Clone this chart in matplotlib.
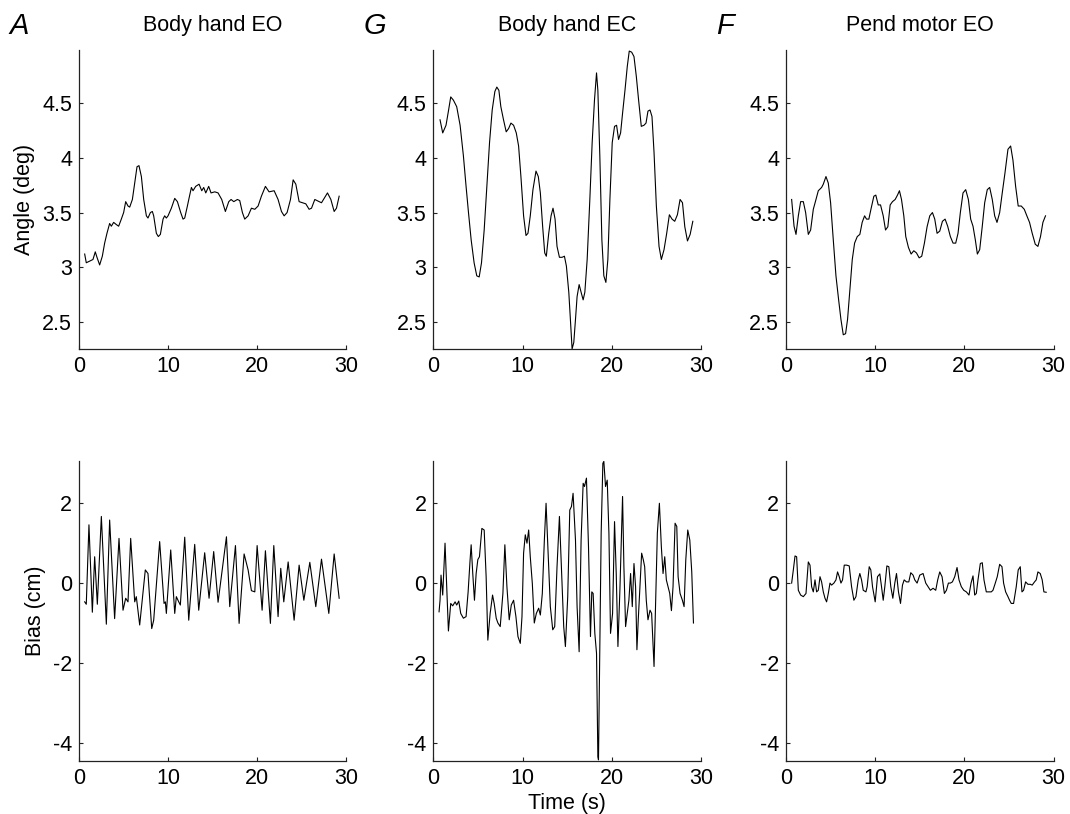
import numpy as np
import matplotlib as mpl

mpl.use("Agg")
import matplotlib.pyplot as plt

plt.rcParams["font.family"] = ["Liberation Sans", "DejaVu Sans"]
plt.rcParams["axes.unicode_minus"] = False

# ---- data ----
# top row: angle (deg)
a_ang_t = [0.64, 0.82, 1.20, 1.57, 1.83, 2.02, 2.32, 2.62, 2.88, 3.14, 3.44, 3.63, 3.89,
           4.19, 4.45, 4.75, 5.01, 5.24, 5.50, 5.69, 5.99, 6.25, 6.51, 6.73, 7.00, 7.26,
           7.56, 7.74, 8.01, 8.23, 8.38, 8.68, 8.90, 9.13, 9.43, 9.61, 9.80, 9.99, 10.36,
           10.74, 11.04, 11.41, 11.67, 11.86, 12.16, 12.42, 12.61, 12.79, 13.09, 13.47,
           13.77, 13.99, 14.22, 14.55, 14.81, 15.23, 15.60, 16.01, 16.42, 16.80, 17.06,
           17.36, 17.77, 18.03, 18.33, 18.59, 18.97, 19.34, 19.72, 20.09, 20.46, 20.91,
           21.32, 21.89, 22.33, 22.71, 23.01, 23.34, 23.72, 24.02, 24.32, 24.69, 25.07,
           25.44, 25.81, 26.08, 26.45, 26.94, 27.20, 27.87, 28.25, 28.62, 28.88, 29.18]
a_ang = [3.12, 3.04, 3.055, 3.07, 3.14, 3.09, 3.02, 3.10, 3.22, 3.31, 3.40, 3.375, 3.41,
         3.39, 3.375, 3.44, 3.50, 3.60, 3.56, 3.55, 3.62, 3.77, 3.92, 3.93, 3.83, 3.62,
         3.47, 3.45, 3.50, 3.51, 3.47, 3.31, 3.28, 3.30, 3.44, 3.47, 3.45, 3.47, 3.54,
         3.63, 3.60, 3.50, 3.44, 3.45, 3.56, 3.66, 3.73, 3.70, 3.74, 3.76,
         3.70, 3.73, 3.68, 3.74, 3.68, 3.69, 3.68, 3.62, 3.51, 3.60, 3.62,
         3.60, 3.62, 3.61, 3.50, 3.44, 3.47, 3.54, 3.53, 3.56, 3.65, 3.74,
         3.69, 3.70, 3.62, 3.51, 3.47, 3.50, 3.62, 3.80, 3.76, 3.60, 3.59,
         3.58, 3.53, 3.54, 3.62, 3.60, 3.59, 3.68, 3.62, 3.51, 3.54, 3.65]

g_ang_t = [0.75, 1.05, 1.42, 1.69, 1.95, 2.25, 2.62, 3.00, 3.37, 3.67, 3.94, 4.24, 4.57,
           4.87, 5.14, 5.40, 5.70, 6.00, 6.30, 6.60, 6.90, 7.12, 7.35, 7.57, 7.87, 8.17,
           8.44, 8.70, 9.00, 9.30, 9.56, 9.82, 10.12, 10.39, 10.61, 10.87, 11.17, 11.51,
           11.77, 12.00, 12.26, 12.49, 12.67, 12.94, 13.20, 13.42, 13.65, 13.87, 14.14,
           14.44, 14.70, 14.92, 15.19, 15.37, 15.56, 15.75, 15.94, 16.12, 16.35, 16.57,
           16.80, 16.99, 17.25, 17.55, 17.81, 18.07, 18.30, 18.45, 18.67, 18.90, 19.12,
           19.35, 19.57, 19.80, 20.06, 20.32, 20.55, 20.77, 21.00, 21.22, 21.49, 21.75,
           21.97, 22.24, 22.50, 22.76, 23.02, 23.32, 23.62, 23.85, 24.07, 24.30, 24.52,
           24.75, 25.01, 25.31, 25.57, 25.87, 26.17, 26.47, 26.77, 27.07, 27.37, 27.67,
           27.94, 28.20, 28.50, 28.80, 29.10]
g_ang = [4.35, 4.23, 4.30, 4.43, 4.56, 4.53, 4.47, 4.30, 4.02, 3.74, 3.50, 3.25, 3.04,
         2.92, 2.91, 3.04, 3.34, 3.74, 4.14, 4.44, 4.61, 4.65, 4.62, 4.47, 4.35, 4.24,
         4.27, 4.32, 4.30, 4.23, 4.11, 3.83, 3.47, 3.29, 3.31, 3.47, 3.71, 3.88,
         3.83, 3.68, 3.37, 3.13, 3.10, 3.31, 3.47, 3.54, 3.44, 3.19, 3.09,
         3.09, 3.10, 3.01, 2.77, 2.52, 2.25, 2.31, 2.52, 2.73, 2.84, 2.77,
         2.70, 2.77, 3.07, 3.62, 4.14, 4.53, 4.78, 4.62, 4.02, 3.25, 2.92,
         2.86, 3.07, 3.62, 4.14, 4.29, 4.30, 4.17, 4.23, 4.41, 4.62, 4.84,
         4.98, 4.97, 4.93, 4.75, 4.53, 4.29, 4.30, 4.32, 4.43, 4.44, 4.38,
         4.05, 3.56, 3.19, 3.07, 3.16, 3.31, 3.48, 3.44, 3.42, 3.48, 3.62,
         3.59, 3.37, 3.24, 3.30, 3.42]

f_ang_t = [0.63, 0.90, 1.12, 1.38, 1.64, 1.94, 2.20, 2.50, 2.76, 3.06, 3.36, 3.62, 3.99,
           4.18, 4.48, 4.74, 5.00, 5.30, 5.60, 5.90, 6.16, 6.42, 6.68, 6.90, 7.16, 7.43,
           7.69, 7.99, 8.28, 8.54, 8.81, 9.03, 9.29, 9.55, 9.85, 10.07, 10.34, 10.60,
           10.90, 11.16, 11.42, 11.68, 11.94, 12.24, 12.50, 12.72, 12.95, 13.21, 13.43,
           13.73, 14.03, 14.33, 14.63, 14.93, 15.22, 15.52, 15.82, 16.12, 16.42, 16.68,
           16.94, 17.24, 17.54, 17.84, 18.13, 18.43, 18.73, 19.03, 19.29, 19.55, 19.85,
           20.15, 20.45, 20.71, 20.97, 21.23, 21.46, 21.72, 22.01, 22.28, 22.57, 22.84,
           23.13, 23.40, 23.66, 23.96, 24.25, 24.55, 24.89, 25.19, 25.45, 25.75, 26.04,
           26.38, 26.72, 27.01, 27.31, 27.61, 27.95, 28.25, 28.54, 28.81, 29.10]
f_ang = [3.62, 3.375, 3.30, 3.47, 3.60, 3.60, 3.50, 3.30, 3.34, 3.53, 3.62, 3.70, 3.73,
         3.76, 3.83, 3.77, 3.59, 3.25, 2.92, 2.70, 2.52, 2.38, 2.39, 2.52, 2.79, 3.07,
         3.22, 3.28, 3.30, 3.41, 3.47, 3.44, 3.44, 3.54, 3.65, 3.66, 3.57, 3.57,
         3.47, 3.34, 3.37, 3.57, 3.60, 3.62, 3.66, 3.70, 3.62, 3.47, 3.28,
         3.18, 3.12, 3.15, 3.13, 3.085, 3.10, 3.22, 3.37, 3.47, 3.50, 3.44,
         3.31, 3.33, 3.42, 3.44, 3.375, 3.28, 3.22, 3.22, 3.31, 3.50, 3.68,
         3.71, 3.62, 3.44, 3.375, 3.25, 3.12, 3.16, 3.375, 3.59, 3.71, 3.73,
         3.62, 3.47, 3.41, 3.50, 3.68, 3.86, 4.08, 4.11, 3.98, 3.74, 3.56,
         3.56, 3.53, 3.47, 3.41, 3.31, 3.21, 3.19, 3.28, 3.41, 3.47]

# bottom row: bias (cm)
a_bias_t = [0.64, 0.82, 1.12, 1.50, 1.76, 2.06, 2.51, 3.07, 3.44, 4.00, 4.49, 4.94, 5.24,
            5.50, 5.80, 6.25, 6.43, 6.81, 7.44, 7.74, 8.16, 8.38, 9.05, 9.54, 9.69, 9.80,
            10.29, 10.74, 10.92, 11.19, 11.37, 11.86, 12.31, 12.98, 13.43, 14.10, 14.59,
            15.11, 15.60, 16.54, 16.91, 17.55, 17.96, 18.52, 18.97, 19.34, 19.72, 19.98,
            20.54, 20.91, 21.47, 21.85, 22.33, 22.63, 22.97, 23.46, 24.13, 24.69, 25.22,
            25.89, 26.56, 27.20, 28.02, 28.62, 29.18]
a_bias = [-0.47, -0.53, 1.46, -0.73, 0.66, -0.53, 1.67, -1.03, 1.58, -0.89, 1.12, -0.68,
          -0.38, -0.47, 1.12, -0.47, -0.34, -1.05, 0.33, 0.24, -1.14, -0.93, 1.04, -0.51,
          -0.47, -0.76, 0.83, -0.76, -0.34, -0.47, -0.55, 1.15, -0.93, 0.97, -0.68, 0.76,
          -0.38, 0.79, -0.48, 1.16, -0.59, 0.94, -1.01, 0.73, 0.33, -0.19, -0.22, 0.94,
          -0.68, 0.81, -1.01, 0.94, -0.84, 0.37, -0.47, 0.53, -0.93, 0.45, -0.43,
          0.52, -0.59, 0.60, -0.76, 0.73, -0.38]

g_bias_t = [0.64, 0.75, 0.86, 1.05, 1.31, 1.69, 1.95, 2.17, 2.44, 2.62, 2.85, 3.07, 3.37,
            3.67, 3.90, 4.12, 4.24, 4.42, 4.61, 4.80, 4.99, 5.17, 5.44, 5.70, 5.92, 6.11,
            6.37, 6.64, 6.82, 7.05, 7.24, 7.50, 7.80, 8.02, 8.25, 8.51, 8.74, 9.00, 9.26,
            9.49, 9.75, 9.94, 10.12, 10.31, 10.50, 10.69, 10.87, 11.10, 11.32, 11.55,
            11.81, 12.00, 12.22, 12.45, 12.64, 12.86, 13.12, 13.39, 13.61, 13.87, 14.14,
            14.36, 14.62, 14.81, 15.07, 15.30, 15.49, 15.67, 15.94, 16.12, 16.35, 16.57,
            16.80, 16.95, 17.17, 17.40, 17.62, 17.77, 17.92, 18.11, 18.30, 18.45, 18.52,
            18.64, 18.82, 19.01, 19.12, 19.31, 19.50, 19.69, 19.87, 20.10, 20.32, 20.51,
            20.70, 20.92, 21.22, 21.37, 21.56, 21.75, 21.93, 22.12, 22.31, 22.50, 22.68,
            22.83, 22.98, 23.17, 23.36, 23.55, 23.70, 23.88, 24.07, 24.30, 24.48, 24.75,
            24.94, 25.12, 25.35, 25.57, 25.76, 25.95, 26.13, 26.32, 26.51, 26.70, 26.88,
            27.11, 27.30, 27.45, 27.67, 27.93, 28.12, 28.31, 28.53, 28.76, 28.98, 29.17]
g_bias = [-0.72, -0.43, 0.20, -0.30, 1.00, -1.20, -0.51, -0.57, -0.47, -0.55, -0.45, -0.76,
          -0.88, -0.84, -0.22, 0.58, 0.96, 0.24, -0.43, 0.24, 0.59, 0.66, 1.37, 1.33, 0.16,
          -1.43, -0.76, -0.30, -0.51, -0.88, -1.00, -1.09, -0.26, 0.96, -0.09, -0.92, -0.55,
          -0.43, -0.84, -1.34, -1.51, -0.84, 0.75, 1.21, 1.00, 1.33, 0.66, -0.01, -1.00,
          -0.76, -0.63, -0.80, -0.26, 1.08, 2.00, 0.83, -0.59, -1.17, -1.09, 0.41, 1.67,
          0.41, -1.09, -1.59, -0.34, 1.83, 1.92, 2.25, 1.08, -0.59, -1.72, 1.08,
          2.50, 2.42, 2.63, 0.91, -1.34, -0.22, -0.26, -1.26, -1.76, -4.35, -4.43,
          -2.09, 1.25, 3.00, 3.05, 2.42, 2.58, 1.25, -1.26, -0.76, 1.54, 0.24,
          -1.59, -0.18, 2.17, 0.41, -1.09, -0.76, -0.43, 0.24, -0.59, 0.49, -0.09,
          -1.67, -0.92, -0.09, 0.75, 0.58, 0.41, -0.43, -0.92, -0.68, -0.76, -2.09,
          -0.43, 1.25, 2.00, 0.91, 0.24, 0.66, 0.08, -0.09, -0.26, -0.69, -0.09,
          1.50, 1.42, 0.16, -0.26, -0.43, -0.59, 0.58, 1.33, 1.08, 0.28, -1.00]

f_bias_t = [0.63, 0.82, 1.01, 1.19, 1.38, 1.64, 1.94, 2.24, 2.50, 2.69, 2.87, 3.06, 3.25,
            3.43, 3.62, 3.81, 3.99, 4.18, 4.37, 4.55, 4.74, 4.93, 5.11, 5.37, 5.60, 5.78,
            5.97, 6.16, 6.34, 6.53, 6.79, 7.09, 7.35, 7.61, 7.84, 8.10, 8.28, 8.47, 8.66,
            8.96, 9.10, 9.33, 9.51, 9.70, 10.00, 10.26, 10.52, 10.71, 10.90, 11.08, 11.31,
            11.53, 11.75, 11.98, 12.20, 12.39, 12.61, 12.84, 13.06, 13.25, 13.51, 13.77,
            13.99, 14.25, 14.44, 14.70, 15.00, 15.37, 15.67, 15.93, 16.19, 16.49, 16.79,
            17.01, 17.24, 17.50, 17.76, 17.99, 18.21, 18.43, 18.66, 18.92, 19.18, 19.40,
            19.66, 19.93, 20.22, 20.52, 20.75, 20.97, 21.16, 21.34, 21.53, 21.79, 22.01,
            22.20, 22.46, 22.76, 23.02, 23.21, 23.47, 23.69, 23.96, 24.22, 24.40, 24.63,
            24.89, 25.07, 25.26, 25.52, 25.82, 26.04, 26.27, 26.46, 26.64, 26.87, 27.13,
            27.39, 27.61, 27.87, 28.06, 28.25, 28.51, 28.73, 28.92, 29.18]
f_bias = [0.00, 0.33, 0.68, 0.66, -0.18, -0.30, -0.34, -0.26, 0.53, 0.45, -0.09, -0.22,
          0.08, -0.22, -0.18, 0.16, 0.03, -0.22, -0.38, -0.47, -0.26, 0.00, -0.05, 0.00,
          0.08, 0.28, 0.16, 0.00, 0.08, 0.45, 0.45, 0.43, -0.09, -0.43, -0.34, 0.08, 0.24,
          0.08, -0.18, -0.22, -0.09, 0.41, 0.33, -0.09, -0.47, 0.16, 0.23, -0.09, -0.43,
          -0.09, 0.43, 0.41, -0.09, -0.38, 0.00, 0.24, -0.22, -0.51, -0.05, 0.08, 0.03,
          0.03, 0.26, 0.20, 0.08, 0.00, 0.20, 0.24, 0.00, -0.09, -0.18, -0.13, -0.18,
          0.08, 0.28, 0.16, -0.26, -0.18, 0.00, 0.00, 0.03, 0.16, 0.39, 0.08,
          -0.09, -0.18, -0.22, -0.30, 0.00, 0.18, -0.30, -0.26, 0.08, 0.49, 0.51,
          0.08, -0.22, -0.22, -0.22, -0.18, 0.00, 0.16, 0.47, 0.41, 0.00, -0.22,
          -0.34, -0.43, -0.51, -0.51, -0.09, 0.33, 0.41, -0.22, -0.18, 0.03, -0.03,
          -0.03, -0.05, 0.03, 0.08, 0.28, 0.24, 0.08, -0.22, -0.23]

titles = ["Body hand EO", "Body hand EC", "Pend motor EO"]
letters = ["A", "G", "F"]
top_series = [(a_ang_t, a_ang), (g_ang_t, g_ang), (f_ang_t, f_ang)]
bot_series = [(a_bias_t, a_bias), (g_bias_t, g_bias), (f_bias_t, f_bias)]

# ---- layout ----
fig = plt.figure(figsize=(10.7, 8.14), dpi=100)
lefts = [0.0738, 0.405, 0.7346]
width = 0.2500
spine_col = "#222222"


def style_axis(ax):
    for s in ["top", "right"]:
        ax.spines[s].set_visible(False)
    for s in ["left", "bottom"]:
        ax.spines[s].set_color(spine_col)
        ax.spines[s].set_linewidth(0.9)
    ax.tick_params(direction="in", length=3, width=0.8, labelsize=15.5,
                   color=spine_col, pad=5)
    ax.set_xlim(0, 30)
    ax.set_xticks([0, 10, 20, 30])


for i in range(3):
    ax = fig.add_axes([lefts[i], 0.5713, width, 0.3673])
    t, y = top_series[i]
    ax.plot(t, y, color="black", lw=0.8)
    style_axis(ax)
    ax.set_ylim(2.25, 4.99)
    ax.set_yticks([2.5, 3, 3.5, 4, 4.5])
    ax.set_yticklabels(["2.5", "3", "3.5", "4", "4.5"])
    ax.set_title(titles[i], fontsize=15.5, pad=14)
    fig.text(lefts[i] - 0.065, 0.958, letters[i], fontsize=21, style="italic",
             ha="left", va="baseline")
    if i == 0:
        ax.set_ylabel("Angle (deg)", fontsize=15.5, labelpad=5)

    ax2 = fig.add_axes([lefts[i], 0.0655, width, 0.3682])
    t, y = bot_series[i]
    ax2.plot(t, y, color="black", lw=0.8)
    style_axis(ax2)
    ax2.set_ylim(-4.45, 3.06)
    ax2.set_yticks([-4, -2, 0, 2])
    if i == 0:
        ax2.set_ylabel("Bias (cm)", fontsize=15.5, labelpad=5)
    if i == 1:
        ax2.set_xlabel("Time (s)", fontsize=15.5, labelpad=3)

fig.savefig("out.png", dpi=100)
plt.close()
